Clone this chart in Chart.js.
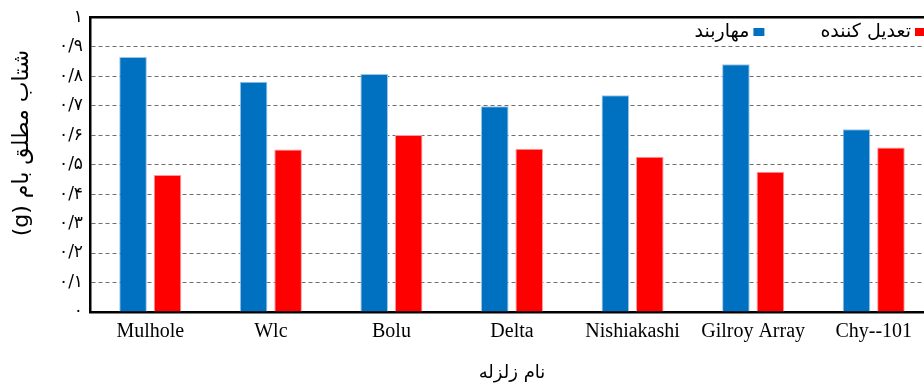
<!DOCTYPE html>
<html>
<head>
<meta charset="utf-8">
<script src="https://cdn.jsdelivr.net/npm/chart.js@4/dist/chart.umd.min.js"></script>
<style>
  html, body { margin: 0; padding: 0; overflow: hidden; background: #fff; width: 924px; height: 389px; }
  canvas { display: block; }
</style>
</head>
<body>
<canvas id="c" width="950" height="389"></canvas>
<script>
// Earthquake records and peak roof acceleration (g) for each system
const earthquakes = ['Mulhole', 'Wlc', 'Bolu', 'Delta', 'Nishiakashi', 'Gilroy Array', 'Chy--101'];
const bracedValues = [0.865, 0.781, 0.807, 0.698, 0.735, 0.840, 0.620];
const damperValues = [0.465, 0.551, 0.600, 0.554, 0.527, 0.476, 0.558];
const seriesNames = ['مهاربند', 'تعدیل کننده'];
const yTickLabels = ['۰', '۰/۱', '۰/۲', '۰/۳', '۰/۴', '۰/۵', '۰/۶', '۰/۷', '۰/۸', '۰/۹', '۱'];
const yAxisTitle = '(g) شتاب مطلق بام';
const xAxisTitle = 'نام زلزله';

const PERSIAN_FONT = '"DejaVu Sans", sans-serif';
const LATIN_FONT = '"Liberation Serif", "Times New Roman", serif';

// Legend drawn inside the plot, right-to-left, swatch on the right of each label
const rtlLegend = {
  id: 'rtlLegend',
  afterDraw(chart) {
    const ctx = chart.ctx;
    ctx.save();
    ctx.font = '19px ' + PERSIAN_FONT;
    ctx.textBaseline = 'middle';
    ctx.textAlign = 'right';
    let x = 926;
    const y = 32;
    chart.data.datasets.slice().reverse().forEach(ds => {
      ctx.fillStyle = ds.backgroundColor;
      ctx.fillRect(x - 11, y - 4, 11, 8);
      const tx = x - 15;
      ctx.fillStyle = '#000';
      ctx.fillText(ds.label, tx, y);
      x = tx - ctx.measureText(ds.label).width - 56;
    });
    ctx.restore();
  }
};

// Vertical axis title, rotated, sitting a little above the axis middle
const yTitle = {
  id: 'yTitle',
  afterDraw(chart) {
    const ctx = chart.ctx;
    ctx.save();
    ctx.translate(22, 143);
    ctx.rotate(-Math.PI / 2);
    ctx.font = '22px ' + PERSIAN_FONT;
    ctx.fillStyle = '#000';
    ctx.textAlign = 'center';
    ctx.textBaseline = 'middle';
    ctx.fillText(yAxisTitle, 0, 0);
    ctx.restore();
  }
};

// Solid frame line along the top of the plot
const topFrame = {
  id: 'topFrame',
  afterDatasetsDraw(chart) {
    const { ctx, chartArea } = chart;
    ctx.save();
    ctx.strokeStyle = '#000';
    ctx.lineWidth = 2.5;
    ctx.beginPath();
    ctx.moveTo(chartArea.left - 1, chartArea.top);
    ctx.lineTo(chartArea.right + 20, chartArea.top);
    ctx.stroke();
    ctx.restore();
  }
};

new Chart(document.getElementById('c'), {
  type: 'bar',
  data: {
    labels: earthquakes,
    datasets: [
      {
        label: seriesNames[0],
        data: bracedValues,
        backgroundColor: '#0070C0',
        borderColor: '#9CC3E8',
        borderWidth: 1
      },
      {
        label: seriesNames[1],
        data: damperValues,
        backgroundColor: '#FF0000',
        borderColor: '#FF9A9A',
        borderWidth: 1
      }
    ]
  },
  options: {
    responsive: false,
    animation: false,
    devicePixelRatio: 1,
    layout: { padding: { left: 0, right: 16, top: 16, bottom: 0 } },
    datasets: {
      bar: { categoryPercentage: 0.572, barPercentage: 0.8 }
    },
    plugins: {
      legend: { display: false },
      tooltip: { enabled: false }
    },
    scales: {
      x: {
        grid: { display: false, drawTicks: false },
        border: { display: true, color: '#000', width: 2.5 },
        ticks: {
          color: '#000',
          padding: 8,
          maxRotation: 0,
          autoSkip: false,
          font: { family: LATIN_FONT, size: 20 }
        },
        title: {
          display: true,
          text: xAxisTitle,
          color: '#000',
          font: { family: PERSIAN_FONT, size: 18 },
          padding: { top: 0, bottom: 5 }
        },
        afterFit(scale) { scale.height = 77; }
      },
      y: {
        min: 0,
        max: 1,
        grid: {
          drawTicks: false,
          color: c => (c.tick && (c.tick.value === 0 || c.tick.value === 1)) ? 'rgba(0,0,0,0)' : '#6e6e6e',
          lineWidth: 1
        },
        border: { display: true, color: '#000', width: 2.5, dash: [4, 3] },
        ticks: {
          stepSize: 0.1,
          color: '#000',
          padding: 7,
          font: { family: PERSIAN_FONT, size: 17 },
          callback: (v, i) => yTickLabels[i]
        },
        title: { display: false },
        afterFit(scale) { scale.width = 90; }
      }
    }
  },
  plugins: [rtlLegend, yTitle, topFrame]
});
</script>
</body>
</html>
